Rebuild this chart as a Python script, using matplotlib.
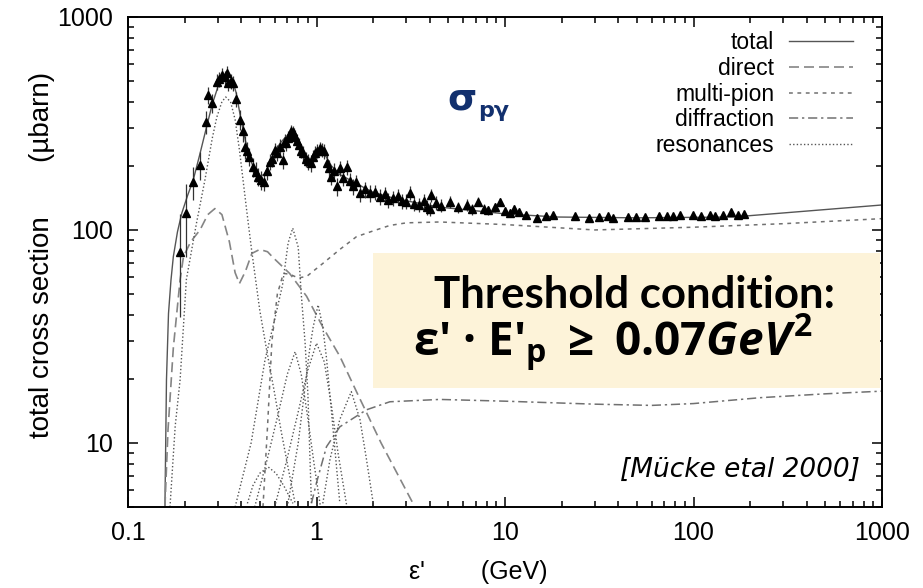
import matplotlib
matplotlib.use('Agg')
import matplotlib.pyplot as plt
from matplotlib.lines import Line2D
from matplotlib.patches import Rectangle
from matplotlib.ticker import FixedLocator, FixedFormatter, LogLocator, NullFormatter

# ---------------- data ----------------
total_e = [0.157, 0.160, 0.164, 0.169, 0.174, 0.183, 0.193, 0.207, 0.222, 0.240, 0.260, 0.280,
           0.300, 0.320, 0.337, 0.355, 0.375, 0.395, 0.420, 0.445, 0.470, 0.500, 0.530, 0.565,
           0.600, 0.640, 0.690, 0.730, 0.760, 0.790, 0.830, 0.880, 0.930, 0.980, 1.030, 1.075,
           1.120, 1.200, 1.330, 1.500, 1.630, 2.000, 2.500, 3.000, 4.500, 7.000, 10.00, 19.00,
           50.00, 162.0, 370.0, 1000.0]
total_s = [5, 19.8, 40.5, 58, 75, 98, 120, 145, 172, 225, 300, 390,
           470, 525, 546, 520, 440, 340, 262, 215, 190, 178, 183, 205,
           232, 255, 275, 285, 283, 268, 240, 214, 208, 218, 232, 236,
           222, 200, 182, 172, 165, 150, 142, 137, 128, 123, 119, 115,
           114, 115, 122, 131]

direct_e = [0.157, 0.163, 0.174, 0.189, 0.197, 0.215, 0.241, 0.265, 0.289, 0.315, 0.345, 0.370,
            0.390, 0.420, 0.454, 0.500, 0.550, 0.590, 0.720, 0.886, 1.080, 1.330, 1.640, 2.200, 3.250]
direct_s = [5, 11.5, 28, 58.5, 75, 88, 100, 118, 126, 118, 88, 63,
            56, 64, 77.6, 81, 79, 74, 62.5, 48.8, 35, 25.5, 17.2, 10, 5.2]

mpi_e = [0.52, 0.55, 0.58, 0.62, 0.667, 0.72, 0.80, 0.887, 1.08, 1.33, 1.63, 2.00, 2.45,
         3.00, 4.50, 10.0, 30.0, 100.0, 300.0, 1000.0]
mpi_s = [5, 12, 30, 50, 62.5, 62, 59.5, 60.5, 69.6, 81, 93, 99, 105,
         108, 109, 106, 100, 103, 107, 113]

diff_e = [0.94, 1.00, 1.13, 1.33, 1.84, 2.45, 4.5, 10, 30, 60, 100, 225, 500, 1000]
diff_s = [5.2, 6.5, 9.6, 11.9, 14.3, 15.6, 16.0, 15.7, 15.2, 15.0, 15.3, 16.3, 17.0, 17.5]

resA_e = [0.167, 0.178, 0.189, 0.204, 0.231, 0.256, 0.280, 0.296, 0.315, 0.330, 0.350, 0.370,
          0.390, 0.426, 0.453, 0.500, 0.545, 0.600, 0.650, 0.710, 0.770]
resA_s = [5, 12, 19.8, 58.5, 108, 172, 270, 339, 400, 421, 400, 330,
          238, 124, 80, 42, 27, 17, 11.3, 7.5, 5.2]
resB_e = [0.37, 0.45, 0.533, 0.60, 0.66, 0.707, 0.748, 0.80, 0.83, 0.87, 0.90, 0.94]
resB_s = [5, 10, 24.5, 38, 55, 86.8, 102, 83, 50, 29.5, 17, 5.2]
resC_e = [0.70, 0.80, 0.88, 0.92, 0.96, 1.02, 1.08, 1.13, 1.22, 1.33]
resC_s = [5, 10, 20, 27.5, 35, 44.5, 35, 25, 12, 5.2]
resD_e = [0.60, 0.70, 0.80, 0.90, 1.00, 1.10, 1.20, 1.30, 1.45]
resD_s = [5, 8.5, 14, 22, 29.4, 24, 15, 9, 5]
resE_e = [0.47, 0.55, 0.63, 0.70, 0.77, 0.83, 0.90, 0.97, 1.05]
resE_s = [5, 8.5, 14, 21, 26.8, 21, 13, 8, 5]
resF_e = [1.08, 1.18, 1.33, 1.53, 1.70, 1.84, 2.00]
resF_s = [5.2, 8.4, 12.9, 17.4, 12.9, 8.4, 5.2]
resG_e = [0.43, 0.46, 0.50, 0.555, 0.61, 0.67, 0.75]
resG_s = [5.2, 6.3, 7.2, 7.7, 7.2, 6.3, 5.2]

data_e = [0.189, 0.204, 0.222, 0.241, 0.260, 0.266, 0.278, 0.295, 0.305, 0.314, 0.326, 0.337,
          0.340, 0.350, 0.359, 0.374, 0.392, 0.405, 0.417, 0.430, 0.440, 0.460, 0.475, 0.490,
          0.510, 0.526, 0.545, 0.566, 0.580, 0.600, 0.620, 0.640, 0.665, 0.680, 0.690, 0.705,
          0.720, 0.735, 0.748, 0.760, 0.770, 0.790, 0.810, 0.830, 0.850, 0.880, 0.905, 0.930,
          0.955, 0.980, 1.010, 1.040, 1.070, 1.100, 1.130, 1.160, 1.200, 1.240, 1.280, 1.330,
          1.380, 1.450, 1.500, 1.560, 1.620, 1.700, 1.800, 1.920, 2.050, 2.170, 2.300, 2.400,
          2.550, 2.700, 2.850, 3.000, 3.130, 3.300, 3.500, 3.700, 3.850, 4.000, 4.070, 4.300,
          4.600, 5.100, 5.600, 6.250, 6.700, 7.200, 7.700, 8.100, 8.800, 9.400, 10.00, 10.60,
          11.20, 11.80, 13.00, 14.70, 16.60, 18.00, 23.5, 28.0, 31.7, 35.0, 37.5, 45.0,
          49.8, 55.5, 66.0, 72.0, 78.0, 84.5, 99.0, 110.0, 122.0, 130.0, 143.0, 158.0,
          172.0, 186.0]
data_s = [79, 120, 168, 202, 323, 430, 393, 497, 510, 534, 520, 544,
          488, 500, 488, 411, 329, 290, 246, 235, 221, 198, 188, 178,
          172, 168, 190, 209, 215, 237, 230, 246, 213, 262, 255, 270,
          279, 290, 289, 280, 274, 262, 250, 236, 229, 215, 210, 206,
          220, 229, 236, 242, 238, 234, 206, 195, 178, 190, 160, 195,
          175, 198, 170, 160, 168, 149, 155, 149, 150, 143, 147, 138,
          141, 144, 137, 136, 149, 133, 131, 137, 128, 126, 146, 134,
          130, 136, 128, 131, 125, 136, 126, 124, 128, 136, 123, 120,
          126, 122, 118, 114, 116, 118, 116, 114, 115, 116, 114, 115,
          115, 115, 116, 116, 116, 118, 117, 116, 118, 116, 117, 121,
          117, 119]
data_err = [40, 45, 30, 30, 40, 40, 40, 45, 40, 45, 40, 45,
            40, 40, 40, 35, 35, 30, 30, 25, 22, 20, 20, 18,
            18, 16, 18, 18, 18, 20, 20, 20, 20, 20, 20, 20,
            20, 20, 20, 20, 20, 20, 20, 18, 18, 18, 18, 18,
            18, 18, 18, 18, 18, 18, 18, 17, 16, 16, 15, 16,
            15, 16, 15, 14, 14, 13, 13, 13, 12, 12, 12, 11,
            11, 11, 11, 11, 11, 10, 10, 10, 10, 10, 10, 10,
            9, 9, 8, 8, 7, 7, 6, 6, 6, 6, 5, 5,
            5, 5, 4, 4, 4, 4, 1.5, 1.5, 1.5, 1.5, 1.5, 1.5,
            1.5, 1.5, 1.5, 1.5, 1.5, 1.5, 1.5, 1.5, 1.5, 1.5, 1.5, 1.5,
            1.5, 1.5]

legend_labels = ['total', 'direct', 'multi-pion', 'diffraction', 'resonances']
xtick_vals = [0.1, 1, 10, 100, 1000]
xtick_labels = ['0.1', '1', '10', '100', '1000']
ytick_vals = [10, 100, 1000]
ytick_labels = ['10', '100', '1000']

# ---------------- style ----------------
plt.rcParams['font.family'] = ['Liberation Sans', 'DejaVu Sans']
plt.rcParams['mathtext.fontset'] = 'custom'
plt.rcParams['mathtext.rm'] = 'Open Sans:bold'
plt.rcParams['mathtext.it'] = 'Open Sans:italic:bold'
plt.rcParams['mathtext.bf'] = 'Open Sans:bold'

W, H = 923, 588
fig = plt.figure(figsize=(W / 100, H / 100), dpi=100)
ax = fig.add_axes([128 / W, 1 - 507 / H, 754 / W, 490 / H])
ax.set_xscale('log')
ax.set_yscale('log')
ax.set_xlim(0.1, 1000)
ax.set_ylim(5, 1000)

st_total = dict(color='#555555', lw=1.0, ls='-')
st_direct = dict(color='#858585', lw=1.2, ls=(0, (6, 3)))
st_mpi = dict(color='#707070', lw=1.1, ls=(0, (2.5, 3)))
st_diff = dict(color='#707070', lw=1.1, ls=(0, (6, 2.5, 1.5, 2.5)))
st_res = dict(color='#555555', lw=1.0, ls=(0, (1, 1.6)))

ax.plot(total_e, total_s, **st_total, zorder=2)
ax.plot(direct_e, direct_s, **st_direct, zorder=2)
ax.plot(mpi_e, mpi_s, **st_mpi, zorder=2)
ax.plot(diff_e, diff_s, **st_diff, zorder=2)
for re, rs in [(resA_e, resA_s), (resB_e, resB_s), (resC_e, resC_s), (resD_e, resD_s),
               (resE_e, resE_s), (resF_e, resF_s), (resG_e, resG_s)]:
    ax.plot(re, rs, **st_res, zorder=2)

ax.errorbar(data_e, data_s, yerr=data_err, fmt='^', ms=5.2, color='black',
            ecolor='#333333', elinewidth=0.9, capsize=0, zorder=3)

# ticks
ax.xaxis.set_major_locator(FixedLocator(xtick_vals))
ax.xaxis.set_major_formatter(FixedFormatter(xtick_labels))
ax.yaxis.set_major_locator(FixedLocator(ytick_vals))
ax.yaxis.set_major_formatter(FixedFormatter(ytick_labels))
ax.xaxis.set_minor_locator(LogLocator(base=10, subs=range(2, 10)))
ax.yaxis.set_minor_locator(LogLocator(base=10, subs=range(2, 10)))
ax.xaxis.set_minor_formatter(NullFormatter())
ax.yaxis.set_minor_formatter(NullFormatter())
ax.tick_params(which='both', direction='in', top=True, right=True, width=1.1, colors='black')
ax.tick_params(which='major', length=7.5)
ax.tick_params(which='minor', length=4)
ax.tick_params(axis='x', which='major', pad=10, labelsize=18)
ax.tick_params(axis='y', which='major', pad=11, labelsize=18)
for sp in ax.spines.values():
    sp.set_linewidth(1.4)

# axis labels
fig.text(42 / W, 1 - 255 / H, 'total cross section       (\u00b5barn)', rotation=90,
         ha='center', va='center', fontsize=20)
fig.text(478 / W, 1 - 572 / H, "\u03b5'        (GeV)", ha='center', va='center', fontsize=18)

# legend
handles = [Line2D([], [], **st_total), Line2D([], [], **st_direct), Line2D([], [], **st_mpi),
           Line2D([], [], **st_diff), Line2D([], [], **st_res)]
ax.legend(handles, legend_labels, loc='upper right', bbox_to_anchor=(0.962, 0.971),
          markerfirst=False, frameon=False, handlelength=2.8, handletextpad=0.65,
          labelspacing=0.12, fontsize=16.5, borderaxespad=0, borderpad=0)

# sigma_p gamma
fig.text(447 / W, 1 - 110 / H, '\u03c3', fontsize=27, fontweight='bold', color='#12306e',
         family='DejaVu Sans', ha='left', va='baseline')
fig.text(478 / W, 1 - 117 / H, 'p\u03b3', fontsize=16, fontweight='bold', color='#12306e',
         family='DejaVu Sans', ha='left', va='baseline')

# threshold box
fig.patches.append(Rectangle((373 / W, 1 - 388 / H), 507 / W, 135 / H, transform=fig.transFigure,
                             facecolor='#fdf3d9', edgecolor='none', zorder=5))
fig.text(635 / W, 1 - 308 / H, 'Threshold condition:', ha='center', va='baseline',
         fontsize=31.5, fontweight='bold', family='Lato', zorder=6)
fig.text(613 / W, 1 - 356 / H,
         "\u03b5' \u00b7 E'$_\\mathrm{p}$ $\\geq$ 0.07$\\mathit{GeV}^\\mathrm{2}$",
         ha='center', va='baseline', fontsize=33, fontweight='bold', family='Open Sans',
         zorder=6)

# reference
fig.text(860 / W, 1 - 477 / H, '[M\u00fccke etal 2000]', ha='right', va='baseline',
         fontsize=19, style='italic', family='DejaVu Sans')

fig.savefig('out.png', dpi=100)
